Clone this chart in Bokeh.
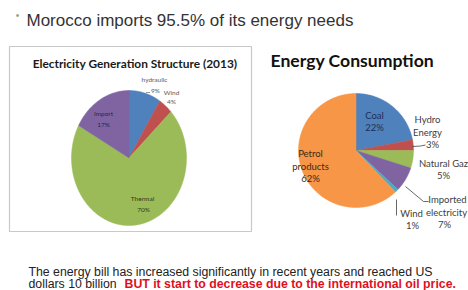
import numpy as np
from bokeh.plotting import figure
from bokeh.models import Range1d
from bokeh.core.properties import value
from bokeh.embed import file_html
from bokeh.resources import INLINE

# ---------------- data ----------------
headline = "Morocco imports 95.5% of its energy needs"

gen_title = "Electricity Generation Structure (2013)"
gen_labels = ["hydraulic", "Wind", "Thermal", "Import"]
gen_values = [9, 4, 70, 17]

cons_title = "Energy Consumption"
cons_labels = [["Coal"], ["Hydro", "Energy"], ["Natural Gaz"], ["Imported", "electricity"], ["Wind"], ["Petrol", "products"]]
cons_values = [22, 3, 5, 7, 1, 62]

note_line1 = "The energy bill has increased significantly in recent years and reached US"
note_line2a = "dollars 10 billion"
note_line2b = "BUT it start to decrease due to the international oil price."

# ---------------- style ----------------
gen_colors = ["#4F81BD", "#C0504D", "#9BBB59", "#8064A2"]
cons_colors = ["#4F81BD", "#C0504D", "#9BBB59", "#8064A2", "#4BACC6", "#F79646"]

W, H = 468, 290
p = figure(width=W, height=H, output_backend="svg", toolbar_location=None,
           x_range=Range1d(0, W), y_range=Range1d(H, 0))
p.axis.visible = False
p.grid.visible = False
p.outline_line_color = None
p.min_border = 0
p.background_fill_color = "white"
p.border_fill_color = "white"


def pie_polys(cx, cy, rx, ry, vals):
    total = float(sum(vals))
    xs, ys = [], []
    acc = 0.0
    for v in vals:
        a0 = 2 * np.pi * acc / total
        a1 = 2 * np.pi * (acc + v) / total
        t = np.linspace(a0, a1, max(3, int(v * 4)))
        xs.append([cx] + list(cx + rx * np.sin(t)))
        ys.append([cy] + list(cy - ry * np.cos(t)))
        acc += v
    return xs, ys


def txt(x, y, s, size, color="#404040", bold=False, font="Lato", align="center", base="middle"):
    p.text(x=[x], y=[y], text=[s], text_font=value(font), text_font_size=f"{size}px",
           text_color=color, text_align=align, text_baseline=base,
           text_font_style="bold" if bold else "normal")


# headline
txt(17, 15, "\u2022", 10, color="#9a9a9a", font="Liberation Sans")
txt(26, 19.5, headline, 17, color="#333333", font="Liberation Sans", align="left", base="alphabetic")

# ---- left chart: box + title + pie ----
p.quad(left=9, right=251, top=46, bottom=231, fill_color=None, line_color="#c9c9c9", line_width=1.2)
txt(134.5, 63, gen_title, 11.9, color="#1a1a1a", bold=True)

gxs, gys = pie_polys(128.5, 157.5, 57.5, 67.5, gen_values)
p.patches(gxs, gys, fill_color=gen_colors, line_color=gen_colors, line_width=0.5)

gpct = [f"{v}%" for v in gen_values]
txt(154, 79, gen_labels[0], 6.5, color="#5a5a5a")
txt(155, 90, gpct[0], 6.5, color="#5a5a5a")
p.line([145.5, 149.5], [92, 92], line_color="#7f7f7f", line_width=0.8)
txt(171, 92, gen_labels[1], 6.5, color="#5a5a5a")
txt(171, 101, gpct[1], 6.5, color="#5a5a5a")
txt(142, 198, gen_labels[2], 6.5, color="#2f3a1a")
txt(143, 209, gpct[2], 6.5, color="#2f3a1a")
txt(103, 113, gen_labels[3], 6.5, color="#2d2440")
txt(103, 124, gpct[3], 6.5, color="#2d2440")

# ---- right chart: title + pie ----
txt(270, 60, cons_title, 17.6, color="#111111", bold=True, align="left")

cxs, cys = pie_polys(355.5, 150, 57.5, 57, cons_values)
p.patches(cxs, cys, fill_color=cons_colors, line_color=cons_colors, line_width=0.5)

cpct = [f"{v}%" for v in cons_values]
FS = 9.5
# Coal (inside)
txt(374, 115, cons_labels[0][0], FS, color="#1f2f4f")
txt(374, 127, cpct[0], FS, color="#1f2f4f")
# Hydro Energy
txt(427, 119, cons_labels[1][0], FS)
txt(427, 132, cons_labels[1][1], FS)
txt(432, 144, cpct[1], FS)
p.line([412, 420, 425], [146, 145.5, 144.5], line_color="#404040", line_width=0.8)
# Natural Gaz
txt(443, 163, cons_labels[2][0], FS)
txt(443, 175, cpct[2], FS)
# Imported electricity
txt(447, 199, cons_labels[3][0], FS)
txt(446, 212, cons_labels[3][1], FS)
txt(444, 224, cpct[3], FS)
p.line([405, 423, 428], [186, 201, 201], line_color="#404040", line_width=0.8)
# Wind
txt(411, 213, cons_labels[4][0], FS)
txt(412, 225, cpct[4], FS)
p.line([396, 396], [199, 215], line_color="#404040", line_width=0.8)
# Petrol products (inside)
txt(310, 153, cons_labels[5][0], FS, color="#3a2a1a")
txt(310, 166, cons_labels[5][1], FS, color="#3a2a1a")
txt(310, 178, cpct[5], FS, color="#3a2a1a")

# ---- bottom note ----
NS = 12.3
txt(28, 271.5, note_line1, NS, color="#222222", font="Liberation Sans", align="left", base="alphabetic")
txt(28, 283.5, note_line2a, NS, color="#222222", font="Liberation Sans", align="left", base="alphabetic")
txt(124, 283.5, note_line2b, NS, color="#e0101e", bold=True, font="Liberation Sans", align="left", base="alphabetic")

open("out.html", "w").write(file_html(p, INLINE))
